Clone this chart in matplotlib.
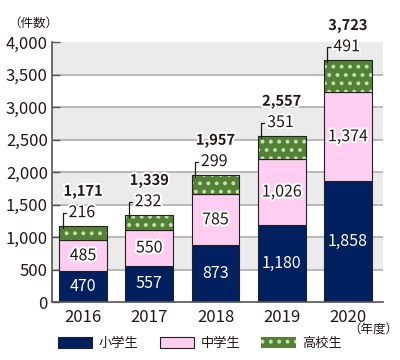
import numpy as np
import matplotlib.pyplot as plt
import matplotlib.patheffects as pe
from matplotlib.patches import Patch

plt.rcParams['font.family'] = ['Noto Sans CJK JP', 'DejaVu Sans']
plt.rcParams['hatch.linewidth'] = 1.6

years = ['2016', '2017', '2018', '2019', '2020']
elem = [470, 557, 873, 1180, 1858]
middle = [485, 550, 785, 1026, 1374]
high = [216, 232, 299, 351, 491]
totals = [1171, 1339, 1957, 2557, 3723]
series_names = ['小学生', '中学生', '高校生']

NAVY = '#002060'
PINK = '#ffccf2'
GREEN = '#548235'
DOT = '#c5e0b4'
TXT = '#231815'

fig = plt.figure(figsize=(4, 3.6), dpi=100)
ax = fig.add_axes([0.13, 0.161, 0.8275, 0.722])

# alternating background bands + grid
for lo in range(500, 4000, 1000):
    ax.axhspan(lo, lo + 500, color='#ebebeb', lw=0, zorder=0)
for y in range(500, 4000, 500):
    ax.axhline(y, color='#b4b4b4', lw=1.3, zorder=0.5)

x = np.arange(len(years))
w = 0.72
elem = np.array(elem)
middle = np.array(middle)
high = np.array(high)

ax.bar(x, elem, w, color=NAVY, edgecolor='#222222', lw=0.8, zorder=2)
ax.bar(x, middle, w, bottom=elem, color=PINK, edgecolor='#222222', lw=0.8, zorder=2)
ax.bar(x, high, w, bottom=elem + middle, color=GREEN, edgecolor=DOT,
       lw=0, hatch='..', zorder=2)
ax.bar(x, high, w, bottom=elem + middle, fill=False, edgecolor='#222222',
       lw=0.8, zorder=3)

halo = [pe.withStroke(linewidth=3, foreground='white')]
for i in range(len(years)):
    ax.text(x[i], elem[i] / 2, f'{elem[i]:,}', ha='center', va='center',
            color='white', fontsize=11.5, zorder=5)
    ax.text(x[i], elem[i] + middle[i] / 2, f'{middle[i]:,}', ha='center',
            va='center', color=TXT, fontsize=11.5, path_effects=halo, zorder=5)
    top = elem[i] + middle[i] + high[i]
    ax.annotate(f'{high[i]:,}', xy=(x[i] - w / 2 + 0.05, top - 30),
                xytext=(4.3, 11), textcoords='offset points',
                ha='left', va='center', color=TXT, fontsize=11.5,
                path_effects=halo, zorder=5,
                arrowprops=dict(arrowstyle='-', color=TXT, lw=0.9,
                                shrinkA=0, shrinkB=0, relpos=(0, 0.5),
                                connectionstyle='angle,angleA=0,angleB=90,rad=0'))
    ax.annotate(f'{totals[i]:,}', xy=(x[i], top), xytext=(0, 25),
                textcoords='offset points', ha='center', va='center',
                color=TXT, fontsize=10.5, fontweight='bold',
                path_effects=halo, zorder=5)

ax.set_xlim(-0.47, 4.53)
ax.set_ylim(0, 4000)
ax.set_yticks(range(0, 4001, 500))
ax.set_yticklabels([f'{v:,}' for v in range(0, 4001, 500)])
ax.set_xticks(x)
ax.set_xticklabels(years)
ax.tick_params(axis='y', direction='in', length=6, width=1, color='#555555',
               labelsize=12, labelcolor=TXT, pad=3)
ax.tick_params(axis='x', length=0, labelsize=12, labelcolor=TXT, pad=5)
for s in ['top', 'right']:
    ax.spines[s].set_visible(False)
for s in ['left', 'bottom']:
    ax.spines[s].set_color('#555555')
    ax.spines[s].set_linewidth(1.2)

fig.text(0.02, 0.935, '（件数）', fontsize=9, color=TXT, ha='left', va='center')
fig.text(0.995, 0.083, '（年度）', fontsize=9, color=TXT, ha='right', va='center')

handles = [
    Patch(facecolor=NAVY, edgecolor='#222222', lw=0.8),
    Patch(facecolor=PINK, edgecolor='#222222', lw=0.8),
    Patch(facecolor=GREEN, edgecolor=DOT, lw=0, hatch='..'),
]
fig.legend(handles, series_names, loc='center', bbox_to_anchor=(0.5, 0.045),
           ncol=3, frameon=False, fontsize=9.5, handlelength=2.6,
           handleheight=0.9, columnspacing=1.6, handletextpad=0.5,
           labelcolor=TXT)

fig.savefig('out.png', dpi=100)
